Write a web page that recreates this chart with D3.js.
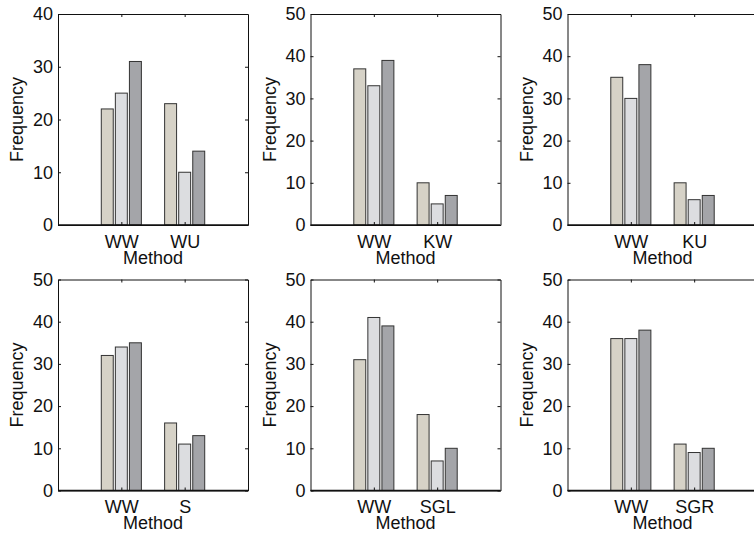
<!DOCTYPE html>
<html>
<head>
<meta charset="utf-8">
<script src="https://cdn.jsdelivr.net/npm/d3@7"></script>
<style>
  body { margin: 0; background: #fff; }
  svg { display: block; font-family: 'Liberation Sans', Arial, Helvetica, sans-serif; }
  .axis path, .axis line { stroke: #111; }
  .axis text { font-size: 18px; fill: #111; }
  .label { font-size: 18px; fill: #111; }
</style>
</head>
<body>
<div id="chart"></div>
<script>
// second method compared against WW in each panel
const methods = ['WU', 'KW', 'KU', 'S', 'SGL', 'SGR']
const wwValues = [[22, 25, 31], [37, 33, 39], [35, 30, 38], [32, 34, 35], [31, 41, 39], [36, 36, 38]]
const otherValues = [[23, 10, 14], [10, 5, 7], [10, 6, 7], [16, 11, 13], [18, 7, 10], [11, 9, 10]]
const yMax = [40, 50, 50, 50, 50, 50]
const series = [0, 1, 2]

const colors = ['#d6d2c7', '#dcdde0', '#a4a5a9']

const width = 754, height = 539
const panelWidth = 190, panelHeight = 211
const colX = [58, 310.5, 567.5],
      rowY = [14, 279.5]
const groupWidth = 0.633

const svg = d3.select('#chart').append('svg')
  .attr('width', width)
  .attr('height', height)

methods.forEach((m, i) => {
  const left = colX[i % 3], top = rowY[Math.floor(i / 3)]
  const cats = ['WW', m]
  const vals = [wwValues[i], otherValues[i]]

  const x = d3.scaleLinear().domain([0, 3]).range([0, panelWidth])
  const y = d3.scaleLinear().domain([0, yMax[i]]).range([panelHeight, 0])

  const g = svg.append('g')
    .attr('transform', 'translate(' + left + ', ' + top + ')')

  vals.forEach((v, c) => {
    const sub = d3.scaleBand()
      .domain(series)
      .range([x(c + 1 - groupWidth / 2), x(c + 1 + groupWidth / 2)])
      .paddingInner(0.15)
    g.append('g').selectAll('rect')
      .data(v).enter()
      .append('rect')
      .attr('x', (d, s) => sub(s))
      .attr('y', d => y(d))
      .attr('width', sub.bandwidth())
      .attr('height', d => y(0) - y(d))
      .style('fill', (d, s) => colors[s])
      .style('stroke', '#333')
      .style('stroke-width', 1)
  })

  // box and inward ticks, matlab style
  g.append('g').classed('axis', true)
    .call(d3.axisLeft(y).ticks(5).tickSize(-3).tickSizeOuter(0).tickPadding(5))
  g.append('g').classed('axis', true)
    .attr('transform', 'translate(' + panelWidth + ', 0)')
    .call(d3.axisRight(y).ticks(5).tickSize(-3).tickSizeOuter(0).tickFormat(''))
  g.append('g').classed('axis', true)
    .call(d3.axisTop(x).tickValues([1, 2]).tickSize(-3).tickSizeOuter(0).tickFormat(''))
  g.append('g').classed('axis', true)
    .attr('transform', 'translate(0, ' + panelHeight + ')')
    .call(d3.axisBottom(x).tickValues([1, 2]).tickSize(-3).tickSizeOuter(0).tickPadding(10)
      .tickFormat(d => cats[d - 1]))
  g.selectAll('.axis path').style('stroke-width', 1)

  g.append('line')
    .attr('x1', 0).attr('x2', panelWidth)
    .attr('y1', y(0)).attr('y2', y(0))
    .style('stroke', '#111').style('stroke-width', 1.6)

  g.append('text').classed('label', true)
    .attr('x', panelWidth / 2)
    .attr('y', panelHeight + 38.5)
    .attr('text-anchor', 'middle')
    .text('Method')

  g.append('text').classed('label', true)
    .attr('transform', 'translate(-35, ' + (panelHeight / 2) + ') rotate(-90)')
    .attr('text-anchor', 'middle')
    .text('Frequency')
})
</script>
</body>
</html>
